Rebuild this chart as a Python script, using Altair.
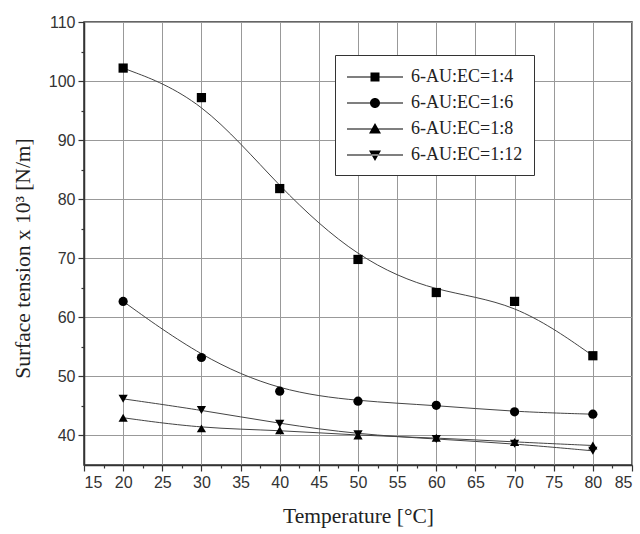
import altair as alt
import pandas as pd

temps = [20, 30, 40, 50, 60, 70, 80]
series_names = ["6-AU:EC=1:4", "6-AU:EC=1:6", "6-AU:EC=1:8", "6-AU:EC=1:12"]
s_1_4 = [102.2, 97.2, 81.8, 69.8, 64.2, 62.7, 53.5]
s_1_6 = [62.7, 53.2, 47.5, 45.8, 45.1, 44.0, 43.6]
s_1_8 = [43.0, 41.2, 40.9, 40.0, 39.6, 38.9, 38.3]
s_1_12 = [46.2, 44.3, 42.0, 40.2, 39.4, 38.6, 37.4]

x_major = [15, 20, 25, 30, 35, 40, 45, 50, 55, 60, 65, 70, 75, 80, 85]
x_minor = [17.5, 22.5, 27.5, 32.5, 37.5, 42.5, 47.5, 52.5, 57.5, 62.5, 67.5, 72.5, 77.5, 82.5]
y_major = [40, 50, 60, 70, 80, 90, 100, 110]
y_minor = [45, 55, 65, 75, 85, 95, 105]

rows = []
for name, vals in zip(series_names, [s_1_4, s_1_6, s_1_8, s_1_12]):
    for t, v in zip(temps, vals):
        rows.append({"T": t, "S": v, "series": name})
df = pd.DataFrame(rows)

point_shapes = ["square", "circle", "triangle-up", "triangle-down"]
LINE = "M-1,-0.055H4.6V0.055H-1Z"
legend_paths = [
    LINE + "M1.35,-0.45H2.25V0.45H1.35Z",
    LINE + "M1.3,0A0.5,0.5,0,1,1,2.3,0A0.5,0.5,0,1,1,1.3,0Z",
    LINE + "M1.8,-0.6L2.4,0.45L1.2,0.45Z",
    LINE + "M1.8,0.6L2.4,-0.45L1.2,-0.45Z",
]

xs = alt.Scale(domain=[15, 85], nice=False, zero=False)
ys = alt.Scale(domain=[35, 110], nice=False, zero=False)

base = alt.Chart(df)

lines = base.mark_line(interpolate="basis", color="#444", strokeWidth=1).encode(
    x=alt.X("T:Q", scale=xs, axis=alt.Axis(
        values=x_major, title="Temperature [°C]", orient="bottom",
        tickSize=6, labelPadding=3, titlePadding=15, labelOverlap=False)),
    y=alt.Y("S:Q", scale=ys, axis=alt.Axis(
        values=y_major, title="Surface tension x 10³ [N/m]", orient="left",
        tickSize=6, labelPadding=3, titlePadding=14, labelOverlap=False,
        titleY=236)),
    detail="series:N",
)

minor = base.mark_point(opacity=0).encode(
    x=alt.X("T:Q", scale=xs, axis=alt.Axis(
        values=x_minor, orient="bottom", labels=False, grid=False,
        domain=False, tickSize=3, title=None)),
    y=alt.Y("S:Q", scale=ys, axis=alt.Axis(
        values=y_minor, orient="left", labels=False, grid=False,
        domain=False, tickSize=3, title=None)),
)

point_layers = []
for name, shp in zip(series_names, point_shapes):
    point_layers.append(
        base.transform_filter(alt.datum.series == name)
        .mark_point(filled=True, color="black", opacity=1, size=85, shape=shp)
        .encode(x=alt.X("T:Q", axis=None), y=alt.Y("S:Q", axis=None))
    )

legend_layer = base.transform_filter("false").mark_point(filled=True, color="black").encode(
    x=alt.X("T:Q", axis=None),
    y=alt.Y("S:Q", axis=None),
    shape=alt.Shape(
        "series:N",
        scale=alt.Scale(domain=series_names, range=legend_paths),
        legend=alt.Legend(
            title=None,
            orient="none",
            legendX=251,
            legendY=33,
            symbolSize=400,
            symbolFillColor="black",
            symbolOpacity=1,
            labelOffset=43,
            labelFont="Liberation Serif",
            labelFontSize=18,
            labelColor="#222",
            rowPadding=6,
            padding=11,
            strokeColor="#333",
            fillColor="white",
            labelLimit=300,
        ),
    ),
)

chart = (
    alt.layer(lines, minor, *point_layers, legend_layer)
    .resolve_axis(x="independent", y="independent")
    .properties(
        width=548,
        height=443,
        autosize=alt.AutoSizeParams(type="none"),
        padding={"left": 84, "top": 22, "right": 8, "bottom": 69},
        background="white",
    )
    .configure_view(stroke="#333", strokeWidth=1.5)
    .configure_axis(
        domainColor="#333",
        domainWidth=1.5,
        tickColor="#333",
        tickWidth=1.2,
        gridColor="#999",
        gridWidth=1,
        labelFont="Liberation Sans",
        labelFontSize=16,
        labelColor="#333",
        titleFont="Liberation Serif",
        titleFontSize=21.5,
        titleFontWeight="normal",
        titleColor="#222",
    )
)

chart.save("out.html", embed_options={"renderer": "svg", "actions": False})
